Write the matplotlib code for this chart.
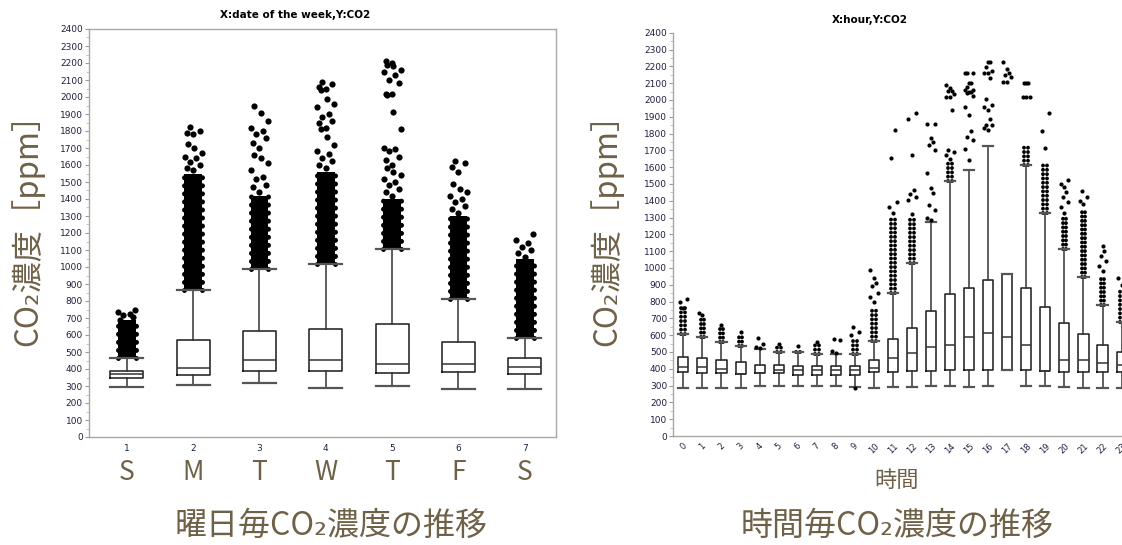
import matplotlib
matplotlib.use("Agg")
import matplotlib.pyplot as plt
import matplotlib.transforms as mtransforms
from matplotlib.ticker import MultipleLocator

plt.rcParams["font.family"] = ["Noto Sans CJK JP", "DejaVu Sans"]

LABEL_COLOR = "#6f6148"
TICK_COLOR = "#1f2040"
SPINE_COLOR = "#a8a8a8"

# --- CO2 by day of week -------------------------------------------------
days = [1, 2, 3, 4, 5, 6, 7]
day_letters = ["S", "M", "T", "W", "T", "F", "S"]
day_whislo = [295, 307, 315, 290, 301, 284, 284]
day_q1 = [346, 362, 386, 386, 374, 380, 368]
day_med = [368, 403, 454, 454, 430, 430, 411]
day_q3 = [389, 568, 624, 636, 662, 556, 462]
day_whishi = [462, 867, 986, 1016, 1106, 810, 585]
# upper end of the solid cloud of outliers above each upper whisker
day_dense_top = [690, 1550, 1420, 1560, 1400, 1300, 1050]
day_outliers = [
    [660, 690, 705, 715, 725, 735, 745],
    [1570, 1580, 1600, 1620, 1640, 1650, 1670, 1700, 1724, 1783, 1790, 1800, 1826],
    [1440, 1470, 1480, 1520, 1530, 1570, 1610, 1640, 1660, 1700, 1730, 1760,
     1780, 1800, 1820, 1860, 1904, 1949],
    [1580, 1600, 1626, 1640, 1666, 1680, 1715, 1763, 1813, 1820, 1850, 1860,
     1880, 1900, 1940, 1960, 1990, 2040, 2050, 2060, 2077, 2090],
    [1420, 1440, 1460, 1480, 1500, 1520, 1540, 1560, 1580, 1600, 1630, 1650,
     1680, 1695, 1700, 1813, 1910, 2014, 2020, 2020, 2080, 2100, 2130, 2150,
     2160, 2180, 2190, 2200, 2214],
    [1320, 1340, 1360, 1380, 1400, 1420, 1440, 1460, 1490, 1560, 1590, 1610, 1626],
    [1060, 1080, 1100, 1120, 1140, 1160, 1196],
]

# --- CO2 by hour of day -------------------------------------------------
hours = list(range(24))
hour_labels = [str(h) for h in hours]
hour_whislo = [285, 285, 285, 285, 300, 300, 300, 300, 300, 290, 285, 290,
               290, 300, 300, 290, 300, 395, 300, 300, 290, 285, 285, 285]
hour_q1 = [378, 375, 375, 370, 372, 372, 365, 365, 365, 362, 378, 380,
           385, 385, 390, 395, 395, 395, 395, 385, 380, 380, 380, 380]
hour_med = [412, 408, 398, 370, 372, 395, 392, 392, 392, 392, 405, 462,
            495, 530, 540, 590, 615, 590, 540, 385, 455, 450, 432, 420]
hour_q3 = [470, 462, 452, 440, 423, 425, 418, 415, 415, 415, 455, 575,
           640, 745, 845, 880, 930, 965, 880, 765, 675, 605, 540, 500]
hour_whishi = [605, 590, 560, 535, 520, 500, 498, 490, 490, 485, 565, 850,
               1030, 1275, 1518, 1581, 1726, 965, 1613, 1325, 1115, 945, 780, 680]
hour_dense_top = [780, 700, 650, 600, 520, 535, 525, 540, 490, 590, 760, 1300,
                  1300, 1275, 1640, 1581, 1726, 965, 1740, 1630, 1300, 1350, 940, 870]
hour_outliers = [
    [760, 800, 815],
    [720, 730],
    [660],
    [620],
    [525, 530, 545, 585],
    [545],
    [535],
    [560],
    [495, 505, 570, 580],
    [285, 600, 620, 650],
    [800, 830, 850, 890, 910, 940, 990],
    [1330, 1360, 1390, 1653, 1821],
    [1320, 1405, 1420, 1440, 1464, 1673, 1885, 1921],
    [1285, 1296, 1345, 1375, 1445, 1473, 1563, 1700, 1730, 1750, 1772, 1855, 1855],
    [1650, 1670, 1690, 1702, 1940, 2017, 2017, 2035, 2054, 2054, 2070, 2089],
    [1640, 1710, 1760, 1780, 1813, 1908, 1958, 2024, 2040, 2050, 2050, 2060,
     2060, 2075, 2100, 2100, 2159, 2159, 2159],
    [1820, 1835, 1850, 1850, 1889, 1940, 1955, 1970, 2006, 2129, 2159, 2159,
     2175, 2198, 2228, 2228],
    [2105, 2105, 2139, 2150, 2159, 2185, 2224],
    [2020, 2020, 2020, 2099, 2099, 2099],
    [1716, 1815, 1923],
    [1330, 1360, 1390, 1420, 1450, 1480, 1500, 1524],
    [1380, 1400, 1420, 1460],
    [980, 1010, 1040, 1070, 1100, 1130],
    [900, 940],
]


def box_stats(lo, q1, med, q3, hi):
    return [dict(whislo=a, q1=b, med=c, q3=d, whishi=e, fliers=[])
            for a, b, c, d, e in zip(lo, q1, med, q3, hi)]


def draw_cloud(ax, positions, starts, tops, solid_w, dot_cols, dot_lw, gap):
    # dense outliers: an optional solid core plus columns of round dots
    for x, lo, hi in zip(positions, starts, tops):
        if hi <= lo:
            continue
        if solid_w:
            ax.bar(x, hi - lo, bottom=lo, width=solid_w, color="black",
                   linewidth=0, zorder=2)
        for dx in dot_cols:
            ax.vlines(x + dx, lo, hi, color="black", linewidth=dot_lw,
                      linestyles=[(0, (0.01, gap))], capstyle="round", zorder=2)


def draw_boxes(ax, positions, stats, width, outliers, offsets, dot_size):
    xs, ys = [], []
    for x, vals in zip(positions, outliers):
        for i, v in enumerate(vals):
            xs.append(x + offsets[i % len(offsets)])
            ys.append(v)
    ax.scatter(xs, ys, s=dot_size, color="black", linewidths=0, zorder=3)
    ax.bxp(stats, positions=positions, widths=width, capwidths=width,
           showfliers=False, manage_ticks=False,
           boxprops=dict(color="#1a1a1a", linewidth=1.1),
           whiskerprops=dict(color="#333333", linewidth=1.1),
           capprops=dict(color="#555555", linewidth=1.6),
           medianprops=dict(color="#333333", linewidth=1.1))


def style_y(ax):
    ax.set_ylim(0, 2400)
    ax.yaxis.set_major_locator(MultipleLocator(100))
    ax.yaxis.set_minor_locator(MultipleLocator(50))
    ax.tick_params(axis="y", which="major", length=3, width=0.8,
                   color="#999999", labelsize=6.5, labelcolor=TICK_COLOR, pad=1.5)
    ax.tick_params(axis="y", which="minor", length=2, width=0.6, color="#bbbbbb")
    for lab in ax.get_yticklabels():
        lab.set_family(["DejaVu Sans"])


fig = plt.figure(figsize=(11.22, 5.45), dpi=100)

# left: weekday
ax1 = fig.add_axes([89 / 1122, 108 / 545, 467 / 1122, 408 / 545])
draw_cloud(ax1, days, day_whishi, day_dense_top, 0.27, [-0.135, 0.135], 3.6, 1.6)
draw_boxes(ax1, days, box_stats(day_whislo, day_q1, day_med, day_q3, day_whishi),
           0.5, day_outliers,
           [0.0, -0.1, 0.1, -0.05, 0.05, -0.13, 0.13, 0.02, -0.08], 20)
ax1.set_xlim(0.43, 7.47)
style_y(ax1)
ax1.set_xticks(days)
ax1.set_xticklabels(days, fontsize=6.5, color=TICK_COLOR, family=["DejaVu Sans"])
ax1.tick_params(axis="x", length=0, pad=5)
for sp in ax1.spines.values():
    sp.set_color(SPINE_COLOR)
    sp.set_linewidth(1.0)

letter_tr = mtransforms.blended_transform_factory(ax1.transData, fig.transFigure)
for x, letter in zip(days, day_letters):
    ax1.text(x, 1 - 473 / 545, letter, transform=letter_tr, ha="center",
             va="center", fontsize=19, color=LABEL_COLOR)

fig.text(295 / 1122, 1 - 15 / 545, "X:date of the week,Y:CO2", ha="center",
         va="center", fontsize=7.5, fontweight="bold", family=["DejaVu Sans"])
fig.text(27 / 1122, 1 - 222 / 545, "CO₂濃度［ppm］", rotation=90, ha="center",
         va="center", fontsize=22.5, color=LABEL_COLOR)
fig.text(331 / 1122, 1 - 526 / 545, "曜日毎CO₂濃度の推移", ha="center",
         va="center", fontsize=23, color=LABEL_COLOR)

# right: hour of day
ax2 = fig.add_axes([673.3 / 1122, 109 / 545, 459.7 / 1122, 403.3 / 545])
draw_cloud(ax2, hours, hour_whishi, hour_dense_top, 0, [-0.1, 0.1], 2.8, 1.1)
draw_boxes(ax2, hours, box_stats(hour_whislo, hour_q1, hour_med, hour_q3, hour_whishi),
           0.53, hour_outliers, [0.0, -0.2, 0.2, -0.1, 0.1], 9)
ax2.set_xlim(-0.53, 23.6)
style_y(ax2)
ax2.set_xticks(hours)
ax2.set_xticklabels(hour_labels, rotation=45, fontsize=6, color=TICK_COLOR,
                    family=["DejaVu Sans"], ha="center")
ax2.tick_params(axis="x", length=0, pad=4)
for side in ("top", "right"):
    ax2.spines[side].set_visible(False)
for side in ("left", "bottom"):
    ax2.spines[side].set_color(SPINE_COLOR)
    ax2.spines[side].set_linewidth(1.0)

fig.text(870 / 1122, 1 - 20 / 545, "X:hour,Y:CO2", ha="center", va="center",
         fontsize=7.5, fontweight="bold", family=["DejaVu Sans"])
fig.text(606 / 1122, 1 - 222 / 545, "CO₂濃度［ppm］", rotation=90, ha="center",
         va="center", fontsize=22.5, color=LABEL_COLOR)
fig.text(897 / 1122, 1 - 480 / 545, "時間", ha="center", va="center",
         fontsize=16, color=LABEL_COLOR)
fig.text(897 / 1122, 1 - 526 / 545, "時間毎CO₂濃度の推移", ha="center",
         va="center", fontsize=23, color=LABEL_COLOR)

fig.savefig("out.png", dpi=100)
